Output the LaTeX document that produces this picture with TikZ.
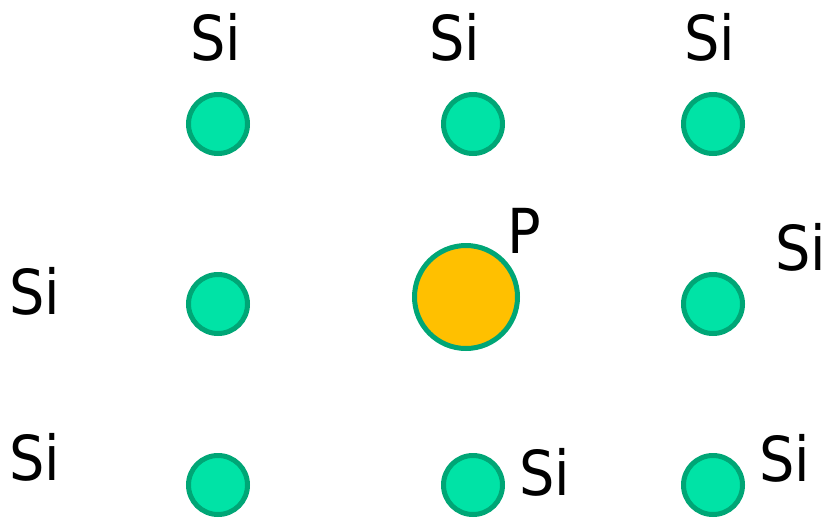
\documentclass[tikz,border=0pt]{standalone}
\usepackage{fontspec}
\setmainfont{DejaVu Sans Condensed}
\usepackage{tikz}
\usetikzlibrary{positioning}
\definecolor{siliconfill}{HTML}{00E3A6}
\definecolor{siliconedge}{HTML}{00A676}
\definecolor{dopantfill}{HTML}{FFC000}

\begin{document}
\begin{tikzpicture}[
  x=1pt,y=-1pt,
  atom/.style={circle,draw=siliconedge,line width=5pt,fill=siliconfill,
    inner sep=0pt,minimum size=59pt},
  dopant/.style={circle,draw=siliconedge,line width=5pt,fill=dopantfill,
    inner sep=0pt,minimum size=103pt},
  lbl/.style={font=\fontsize{62}{62}\selectfont,inner sep=0pt,anchor=base}
]
  \useasboundingbox (0,0) rectangle (827,517);

  % lattice atoms
  \node[atom] (a11) at (218,124) {};
  \node[atom] (a12) at (473,124) {};
  \node[atom] (a13) at (713,124) {};
  \node[atom] (a21) at (218,304) {};
  \node[atom] (a23) at (713,304) {};
  \node[atom] (a31) at (218,485) {};
  \node[atom] (a32) at (473,485) {};
  \node[atom] (a33) at (713,485) {};

  % phosphorus in the middle
  \node[dopant] (p) at (466,297) {};

  % labels
  \node[lbl] (t11) at (215.5,60) {Si};
  \node[lbl] (t12) at (455,60) {Si};
  \node[lbl] (t13) at (710,60) {Si};
  \node[lbl] (t21) at (35,314) {Si};
  \node[lbl] (t23) at (800.5,270) {Si};
  \node[lbl] (t31) at (35,480) {Si};
  \node[lbl] (t32) at (545,495) {Si};
  \node[lbl] (t33) at (785,481) {Si};
  \node[lbl] (tp) at (524,253) {P};
\end{tikzpicture}
\end{document}
